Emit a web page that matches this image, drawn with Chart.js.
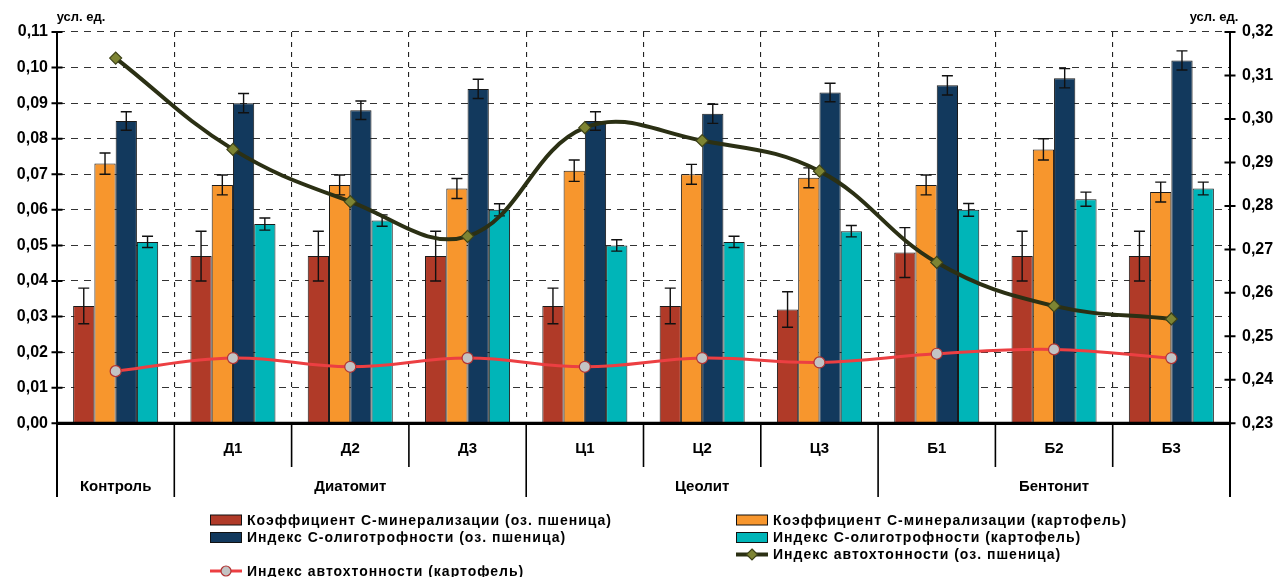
<!DOCTYPE html>
<html><head><meta charset="utf-8">
<script src="https://cdn.jsdelivr.net/npm/chart.js@4.4.0/dist/chart.umd.min.js"></script>
<style>html,body{margin:0;padding:0;background:#fff}#wrap{width:1279px;height:577px;position:relative}</style>
</head><body><div id="wrap"><canvas id="c" width="1279" height="577"></canvas></div>
<script>
// ---- data ----
const categories = ['Контроль','Д1','Д2','Д3','Ц1','Ц2','Ц3','Б1','Б2','Б3'];
const tickLabels = ['','Д1','Д2','Д3','Ц1','Ц2','Ц3','Б1','Б2','Б3'];
const groupLabels = ['Контроль','Диатомит','Цеолит','Бентонит'];
const groupFrom = [0,1,4,7];
const groupTo   = [0,3,6,9];

const cMinWheat   = [0.033,0.047,0.047,0.047,0.033,0.033,0.032,0.048,0.047,0.047];
const cMinWheatErr= [0.005,0.007,0.007,0.007,0.005,0.005,0.005,0.007,0.007,0.007];
const cMinPotato  = [0.073,0.067,0.067,0.066,0.071,0.070,0.069,0.067,0.077,0.065];
const cMinPotatoErr=[0.003,0.0028,0.0028,0.0028,0.003,0.0028,0.0028,0.0028,0.003,0.0028];
const oligoWheat  = [0.085,0.090,0.088,0.094,0.085,0.087,0.093,0.095,0.097,0.102];
const oligoWheatErr=[0.0026,0.0027,0.0026,0.0027,0.0026,0.0027,0.0026,0.0027,0.0027,0.0027];
const oligoPotato = [0.051,0.056,0.057,0.060,0.050,0.051,0.054,0.060,0.063,0.066];
const oligoPotatoErr=[0.0016,0.0017,0.0016,0.0017,0.0016,0.0016,0.0016,0.0018,0.002,0.0018];
const autoWheat   = [0.314,0.293,0.281,0.273,0.298,0.295,0.288,0.267,0.257,0.254];
const autoPotato  = [0.242,0.245,0.243,0.245,0.243,0.245,0.244,0.246,0.247,0.245];

const seriesNames = [
 'Коэффициент С-минерализации (оз. пшеница)',
 'Коэффициент С-минерализации (картофель)',
 'Индекс С-олиготрофности (оз. пшеница)',
 'Индекс С-олиготрофности (картофель)',
 'Индекс автохтонности (оз. пшеница)',
 'Индекс автохтонности (картофель)'
];
const unitLabel = 'усл. ед.';

const FONT = '"Liberation Sans", Arial, sans-serif';
const fmt = v => Number(v).toFixed(2).replace('.', ',');

const errorBars = {
  id:'errorBars',
  afterDatasetDraw(chart, args){
    const ds = chart.data.datasets[args.index];
    if(!ds.errors) return;
    const ctx = chart.ctx, ys = chart.scales[ds.yAxisID || 'y'];
    ctx.save(); ctx.strokeStyle = '#111'; ctx.lineWidth = 1.4;
    args.meta.data.forEach((el,i)=>{
      const v = ds.data[i], e = ds.errors[i];
      const t = ys.getPixelForValue(v+e), b = ys.getPixelForValue(v-e);
      const x = el.x;
      ctx.beginPath();
      ctx.moveTo(x,t); ctx.lineTo(x,b);
      ctx.moveTo(x-5.5,t); ctx.lineTo(x+5.5,t);
      ctx.moveTo(x-5.5,b); ctx.lineTo(x+5.5,b);
      ctx.stroke();
    });
    ctx.restore();
  }
};

const decor = {
  id:'decor',
  afterDraw(chart){
    const ctx = chart.ctx, ca = chart.chartArea;
    const xs = chart.scales.x, y = chart.scales.y, y1 = chart.scales.y1;
    const bottomExt = 497, midExt = 467;
    ctx.save();
    ctx.strokeStyle = '#000';
    ctx.setLineDash([]);
    // axis lines extended
    ctx.lineWidth = 2;
    ctx.beginPath();
    ctx.moveTo(ca.left, ca.top); ctx.lineTo(ca.left, bottomExt);
    ctx.moveTo(ca.right, ca.top); ctx.lineTo(ca.right, bottomExt);
    ctx.stroke();
    // zero line
    ctx.lineWidth = 3;
    ctx.beginPath(); ctx.moveTo(ca.left, ca.bottom); ctx.lineTo(ca.right, ca.bottom); ctx.stroke();
    // cross ticks
    ctx.lineWidth = 2;
    ctx.beginPath();
    y.ticks.forEach(t=>{ const p = y.getPixelForValue(t.value); ctx.moveTo(ca.left-5.5,p); ctx.lineTo(ca.left+5.5,p); });
    y1.ticks.forEach(t=>{ const p = y1.getPixelForValue(t.value); ctx.moveTo(ca.right-5.5,p); ctx.lineTo(ca.right+5.5,p); });
    ctx.stroke();
    // separators in label area
    ctx.lineWidth = 1.6;
    const half = (xs.getPixelForValue(1) - xs.getPixelForValue(0))/2;
    ctx.beginPath();
    for(let i=1;i<categories.length;i++){
      const bx = xs.getPixelForValue(i) - half;
      const isGroup = groupFrom.includes(i);
      ctx.moveTo(bx, ca.bottom); ctx.lineTo(bx, isGroup ? bottomExt : midExt);
    }
    ctx.stroke();
    // group labels
    ctx.fillStyle = '#000';
    ctx.font = 'bold 15px ' + FONT;
    ctx.textAlign = 'center'; ctx.textBaseline = 'middle';
    groupLabels.forEach((g,k)=>{
      const cx = (xs.getPixelForValue(groupFrom[k]) + xs.getPixelForValue(groupTo[k]))/2;
      ctx.fillText(g, cx, 487);
    });
    // unit labels
    ctx.font = 'bold 13px ' + FONT;
    ctx.fillText(unitLabel, 81, 17);
    ctx.fillText(unitLabel, 1214, 17);
    // legend
    const ds = chart.data.datasets;
    const cols = [210, 736], rows = [520, 537.5, 554.5, 571];
    const place = [[0,0],[0,1],[1,0],[1,1],[2,1],[3,0]];
    ctx.font = 'bold 14px ' + FONT;
    ctx.textAlign = 'left';
    try { ctx.letterSpacing = '1px'; } catch(e){}
    place.forEach((p,i)=>{
      const d = ds[i];
      const x = cols[p[1]], yy = rows[p[0]];
      if(d.type === 'line'){
        ctx.strokeStyle = d.borderColor; ctx.lineWidth = d.borderWidth;
        ctx.beginPath(); ctx.moveTo(x, yy); ctx.lineTo(x+32, yy); ctx.stroke();
        ctx.fillStyle = d.pointBackgroundColor; ctx.strokeStyle = d.pointBorderColor; ctx.lineWidth = 1.2;
        ctx.beginPath();
        if(d.pointStyle === 'rectRot'){
          const r = 5.5; ctx.moveTo(x+16, yy-r); ctx.lineTo(x+16+r, yy); ctx.lineTo(x+16, yy+r); ctx.lineTo(x+16-r, yy); ctx.closePath();
        } else { ctx.arc(x+16, yy, 5, 0, Math.PI*2); }
        ctx.fill(); ctx.stroke();
      } else {
        ctx.fillStyle = d.backgroundColor; ctx.fillRect(x+0.5, yy-5, 31, 10);
        ctx.strokeStyle = '#111'; ctx.lineWidth = 1; ctx.strokeRect(x+0.5, yy-5, 31, 10);
      }
      ctx.fillStyle = '#000';
      ctx.fillText(d.label, x+37, yy+1);
    });
    ctx.restore();
  }
};

const barCommon = { type:'bar', borderColor:'#1a1a1a', borderWidth:1, yAxisID:'y', order:2, barPercentage:1, categoryPercentage:0.725 };
const chart = new Chart(document.getElementById('c'), {
  data: {
    labels: categories,
    datasets: [
      {...barCommon, label: seriesNames[0], data: cMinWheat, errors: cMinWheatErr, backgroundColor:'#b03a28'},
      {...barCommon, label: seriesNames[1], data: cMinPotato, errors: cMinPotatoErr, backgroundColor:'#f7962d'},
      {...barCommon, label: seriesNames[2], data: oligoWheat, errors: oligoWheatErr, backgroundColor:'#12395d'},
      {...barCommon, label: seriesNames[3], data: oligoPotato, errors: oligoPotatoErr, backgroundColor:'#00b5b8'},
      {type:'line', label: seriesNames[4], data: autoWheat, yAxisID:'y1', order:0,
       borderColor:'#2b3014', borderWidth:4, tension:0.4, pointStyle:'rectRot', pointRadius:6,
       pointBackgroundColor:'#7d8433', pointBorderColor:'#3d4219', pointBorderWidth:1.2},
      {type:'line', label: seriesNames[5], data: autoPotato, yAxisID:'y1', order:1,
       borderColor:'#ec3f42', borderWidth:3, tension:0.4, pointStyle:'circle', pointRadius:5.5,
       pointBackgroundColor:'#c3c3c3', pointBorderColor:'#b03434', pointBorderWidth:1.2}
    ]
  },
  options: {
    responsive:false, animation:false, devicePixelRatio:1,
    layout:{ padding:{ top:32, left:0, right:0, bottom:0 } },
    plugins:{ legend:{display:false}, tooltip:{enabled:false} },
    scales:{
      x:{
        offset:true,
        grid:{ offset:true, color:'#222', lineWidth:1.1, drawTicks:false },
        border:{ display:true, color:'#000', width:3, dash:[5,5] },
        ticks:{ padding:17, color:'#000', font:{family:FONT, size:15, weight:'bold'}, maxRotation:0, autoSkip:false,
                callback:(v,i)=>tickLabels[i] },
        afterFit(s){ s.height = 577 - 423.3; }
      },
      y:{
        position:'left', min:0, max:0.11,
        ticks:{ stepSize:0.01, padding:9, color:'#000', font:{family:FONT, size:16, weight:'bold'}, callback:v=>fmt(v) },
        grid:{ color:'#333', lineWidth:1.1, drawTicks:false },
        border:{ display:true, color:'#000', width:2, dash:[7,6] },
        afterFit(s){ s.width = 57; }
      },
      y1:{
        position:'right', min:0.23, max:0.32,
        ticks:{ stepSize:0.01, padding:12, color:'#000', font:{family:FONT, size:16, weight:'bold'}, callback:v=>fmt(v) },
        grid:{ display:false, drawTicks:false },
        border:{ display:true, color:'#000', width:2 },
        afterFit(s){ s.width = 49; }
      }
    }
  },
  plugins:[errorBars, decor]
});
</script>
</body></html>
